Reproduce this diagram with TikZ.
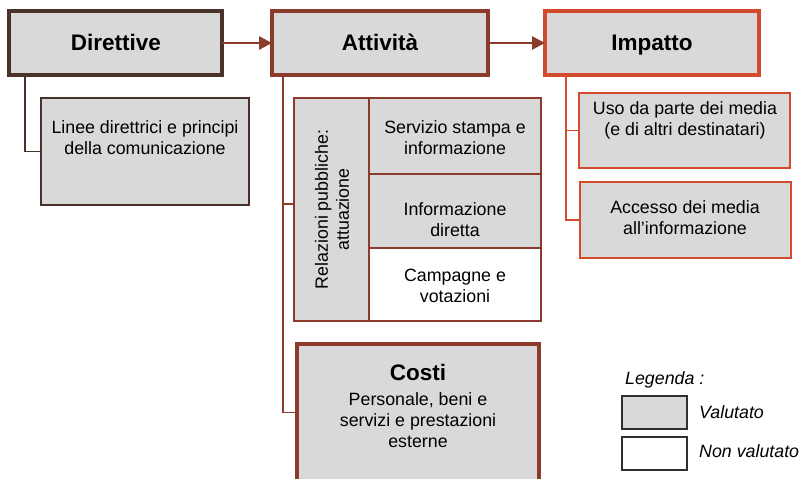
\documentclass[tikz,border=0pt]{standalone}
\usepackage{fontspec}
\setmainfont{Liberation Sans}
\usetikzlibrary{arrows.meta,fit}
\definecolor{dirc}{HTML}{4A3129}
\definecolor{attc}{HTML}{8B3A2B}
\definecolor{impc}{HTML}{D24B2C}
\definecolor{fillg}{HTML}{D9D9D9}
\definecolor{legc}{HTML}{303030}
\begin{document}
\begin{tikzpicture}[x=1pt,y=-1pt,
  box/.style={inner sep=0pt, outer sep=0pt, fill=fillg},
  wbox/.style={inner sep=0pt, outer sep=0pt, fill=white},
  title/.style={font=\fontsize{22.5}{26}\selectfont\bfseries, inner sep=0pt, anchor=base},
  txt/.style={font=\fontsize{17.8}{21}\selectfont, align=center, inner sep=0pt, anchor=base},
  ltxt/.style={font=\fontsize{17.8}{21}\selectfont\itshape, inner sep=0pt, anchor=base west},
  tline/.style={line width=1.5pt},
  flow/.style={line width=2.5pt, attc, -{Triangle[length=13pt,width=13pt]}}
]
\clip (0,0) rectangle (801,479);
\fill[white] (0,0) rectangle (801,479);

% main boxes
\node[box, draw=dirc, line width=4pt, fit={(9,11) (222,75)}] (dir) {};
\node[box, draw=attc, line width=4pt, fit={(272,11) (488,75)}] (att) {};
\node[box, draw=impc, line width=3.5pt, fit={(545,11) (759,75)}] (imp) {};
\node[title] (dirt) at (116,50) {Direttive};
\node[title] (attt) at (380,50) {Attività};
\node[title] (impt) at (652,50) {Impatto};

% flows
\draw[flow] (dir.east) -- (dir.east -| att.west);
\draw[flow] (att.east) -- (att.east -| imp.west);

% Direttive branch
\node[box, draw=dirc, line width=1.5pt, fit={(41,98) (249,205)}] (lin) {};
\node[txt] (lint) at (145,154) {Linee direttrici e principi\\della comunicazione};
\coordinate (dtx) at (25,0);
\draw[tline, dirc] (dir.south -| dtx) |- (lin.west);

% Attivita branch
\node[box, draw=attc, line width=1.2pt, fit={(294,98) (369,321)}] (rel) {};
\node[box, draw=attc, line width=1.2pt, fit={(369,98) (541,174)}] (serv) {};
\node[box, draw=attc, line width=1.2pt, fit={(369,174) (541,248)}] (info) {};
\node[wbox, draw=attc, line width=1.2pt, fit={(369,248) (541,321)}] (camp) {};
\node[font=\fontsize{17.8}{21}\selectfont, align=center, inner sep=0pt, rotate=90] (relt) at (332,209.5) {Relazioni pubbliche:\\attuazione};
\node[txt] (servt) at (455,154) {Servizio stampa e\\informazione};
\node[txt] (infot) at (455,236) {Informazione\\diretta};
\node[txt] (campt) at (455,302) {Campagne e\\votazioni};
\node[box, draw=attc, line width=4pt, fit={(297,344) (539,495)}] (cost) {};
\node[title] (costt) at (418,380) {Costi};
\node[txt] (costx) at (418,447) {Personale, beni e\\servizi e prestazioni\\esterne};
\coordinate (atx) at (283,0);
\draw[tline, attc] (att.south -| atx) |- ([yshift=5.5pt]rel.west);
\draw[tline, attc] (att.south -| atx) |- ([yshift=7pt]cost.west);

% Impatto branch
\node[box, draw=impc, line width=1.5pt, fit={(579,93) (790,168)}] (uso) {};
\node[box, draw=impc, line width=1.5pt, fit={(580,182) (791,258)}] (acc) {};
\node[txt] (usot) at (685,135) {Uso da parte dei media\\(e di altri destinatari)};
\node[txt] (acct) at (685,234) {Accesso dei media\\all’informazione};
\coordinate (itx) at (566,0);
\draw[tline, impc] (imp.south -| itx) |- (acc.west);
\draw[tline, impc] (uso.west) -- (uso.west -| itx);

% legend
\node[ltxt] (leg) at (625,384) {Legenda :};
\node[box, draw=legc, line width=1.5pt, fit={(622,396) (687,429)}] (lv) {};
\node[wbox, draw=legc, line width=1.5pt, fit={(622,437) (687,470)}] (lnv) {};
\node[ltxt] (lvt) at (699,418) {Valutato};
\node[ltxt] (lnvt) at (699,457) {Non valutato};
\end{tikzpicture}
\end{document}
